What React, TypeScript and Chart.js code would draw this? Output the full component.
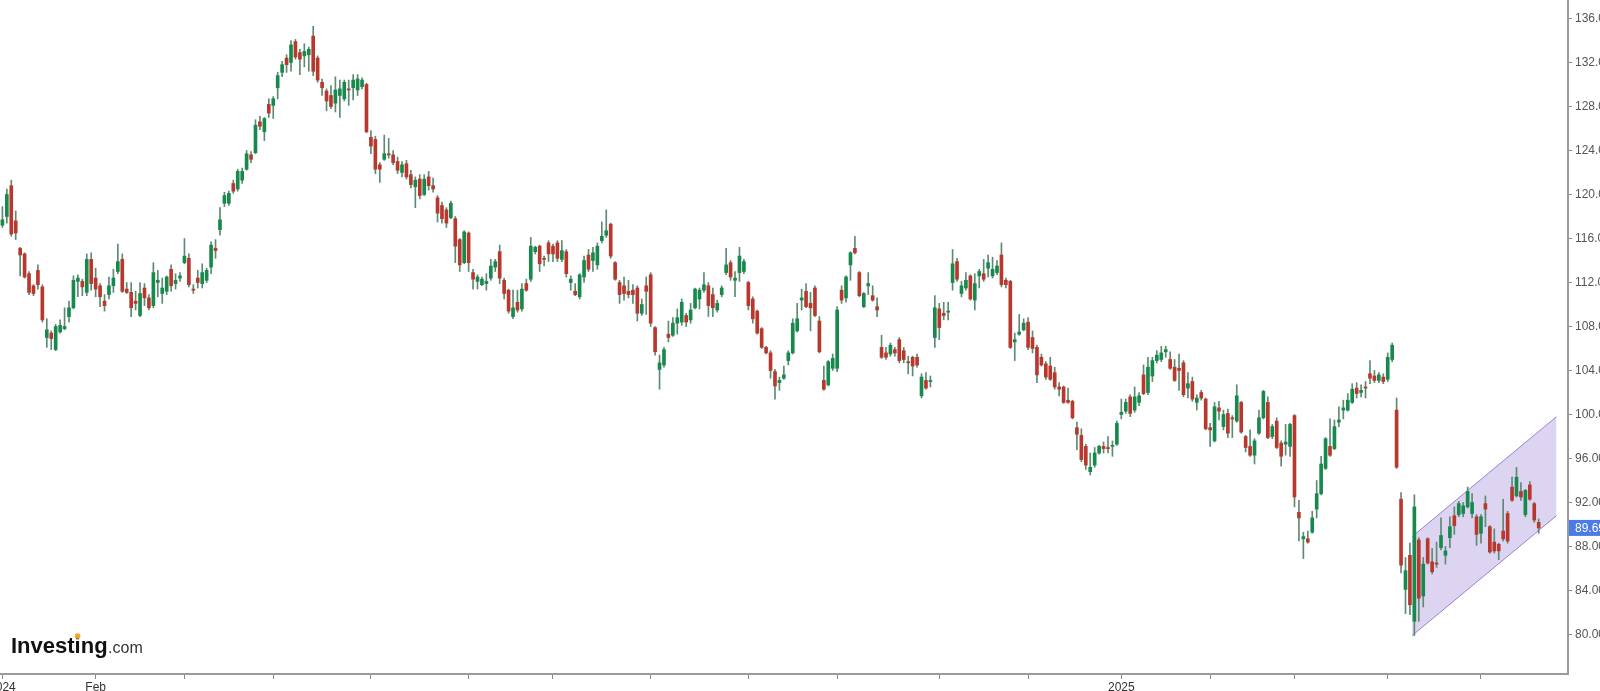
import React, { useEffect, useRef } from 'react';
import { Chart, registerables } from 'chart.js';

Chart.register(...registerables);

// ---------- data ----------
const opens = [
  117.2,118.0,120.8,117.6,115.1,114.6,112.8,111.7,113.1,111.6,
  107.0,107.4,105.9,107.5,107.8,108.9,109.7,112.1,112.1,111.1,
  114.1,112.4,111.7,110.3,110.9,111.7,113.0,114.1,111.4,111.1,
  110.3,109.0,111.5,110.6,109.9,112.0,111.0,111.2,113.2,111.9,
  112.4,113.8,114.2,111.4,112.4,111.9,112.2,113.4,115.1,116.8,
  119.2,119.2,121.0,120.5,121.3,122.3,123.6,123.8,126.6,125.7,
  128.2,128.1,129.7,131.1,132.4,132.0,133.9,132.9,132.6,132.7,
  134.4,132.4,130.2,129.4,129.0,128.3,129.0,128.7,129.6,129.7,
  129.5,129.8,130.0,125.2,125.0,122.7,123.2,123.7,123.6,123.0,
  122.0,122.8,121.8,120.7,121.4,120.0,121.6,120.8,119.7,119.0,
  118.6,117.9,117.8,115.9,113.8,116.5,112.9,112.1,111.8,111.9,
  112.4,113.4,114.8,112.2,111.3,108.9,110.2,109.6,111.9,112.3,
  114.8,115.3,114.2,115.6,115.3,115.6,114.1,114.8,112.0,111.2,
  110.7,112.5,114.5,114.0,113.6,115.8,116.3,117.3,113.8,112.0,
  111.7,111.2,111.3,111.5,109.2,111.7,112.7,107.9,104.1,104.5,
  107.3,107.2,108.3,108.4,109.0,108.6,109.7,110.5,111.3,111.7,
  110.9,109.5,110.9,112.9,113.8,112.2,112.9,113.0,112.0,110.5,
  109.4,107.8,106.1,105.6,103.9,102.9,103.3,104.9,105.6,107.6,
  110.4,111.2,110.1,111.5,108.5,103.1,102.7,104.2,104.2,111.3,
  110.6,113.6,115.1,112.9,109.8,111.7,110.8,109.8,106.1,105.6,
  105.5,105.9,106.8,105.8,104.8,105.2,105.2,101.7,103.1,103.0,
  107.0,109.6,109.2,109.3,112.0,113.9,111.0,111.5,112.6,110.4,
  112.6,112.8,113.3,112.6,112.9,114.5,112.2,112.1,106.6,107.3,
  107.7,108.4,107.0,106.1,105.2,104.6,104.4,103.8,102.5,102.5,
  101.3,101.2,98.8,98.1,97.1,94.8,95.4,96.5,97.1,97.0,
  97.1,97.3,100.0,100.3,101.6,100.4,101.1,103.6,102.0,103.5,
  104.9,105.0,105.7,105.0,104.3,104.2,104.7,102.4,103.0,101.1,
  102.0,101.4,98.8,97.6,100.6,98.9,100.1,99.7,99.4,101.1,
  98.0,97.1,96.3,98.3,99.7,101.1,98.0,99.4,97.4,97.3,
  97.1,99.9,91.1,88.7,88.7,89.3,91.4,92.8,95.1,97.1,
  96.9,99.3,100.4,100.4,101.1,102.4,102.0,102.5,103.7,103.5,
  103.1,103.4,103.2,105.0,100.4,92.3,84.1,87.2,81.2,88.6,
  83.5,88.7,86.6,86.5,87.9,87.2,88.8,90.8,90.9,91.0,
  91.6,91.0,90.7,89.2,91.9,89.8,88.4,88.2,89.4,91.0,
  93.4,92.6,93.0,90.9,93.6,91.9,90.2,
];

const highs = [
  118.9,120.5,121.3,118.5,115.2,114.7,113.0,111.8,113.6,111.8,
  108.7,107.6,108.2,108.6,109.7,110.3,112.6,112.7,112.3,114.6,
  114.7,113.3,111.9,110.9,112.5,113.2,115.5,114.6,112.0,112.0,
  111.2,112.0,111.9,110.9,113.8,113.1,112.4,112.6,113.6,112.8,
  112.9,116.0,114.6,111.8,113.1,113.7,113.3,115.7,115.9,118.8,
  120.2,120.3,121.3,122.3,122.4,124.0,123.9,126.8,127.1,127.0,
  128.7,128.9,131.1,132.1,132.7,134.0,134.1,133.2,133.7,133.4,
  135.3,132.6,130.5,129.6,129.9,130.7,130.4,130.4,130.4,130.9,
  130.9,130.6,130.1,125.8,125.3,122.9,125.4,125.1,124.0,123.4,
  123.0,123.1,122.2,121.6,121.8,121.8,122.1,121.5,119.9,119.3,
  118.8,119.4,118.0,116.0,116.7,116.6,113.2,112.7,112.5,112.8,
  114.1,114.1,115.4,112.4,111.4,111.3,111.3,111.9,112.3,116.1,
  115.3,115.4,114.4,115.8,115.5,115.8,115.8,115.0,112.6,111.9,
  112.8,114.4,115.0,115.2,115.6,117.5,118.6,117.4,113.9,112.2,
  112.5,112.2,111.8,111.7,110.5,112.5,112.9,108.0,105.4,106.1,
  108.5,108.8,109.6,110.5,109.2,110.1,111.5,111.5,112.9,112.0,
  111.5,110.4,111.7,115.1,114.0,113.0,115.2,114.1,112.1,110.7,
  109.5,107.9,106.2,105.8,104.1,103.4,104.4,105.8,108.7,110.1,
  111.4,111.9,111.1,111.7,108.9,104.4,104.9,105.5,109.8,111.7,
  112.6,114.8,116.2,113.0,111.1,112.9,111.7,110.6,107.2,106.1,
  106.5,106.1,107.0,106.1,105.3,105.3,105.5,103.7,103.8,103.5,
  110.8,110.1,110.2,110.2,115.0,114.2,112.1,112.9,112.7,112.8,
  113.2,114.1,114.5,114.3,114.0,115.6,112.4,112.2,107.4,109.1,
  108.7,108.8,107.6,106.3,105.5,104.8,105.2,104.3,102.9,102.6,
  102.4,101.3,99.3,98.7,97.3,96.5,97.0,97.2,97.5,98.0,
  97.6,99.4,101.4,101.4,101.8,102.5,102.0,104.5,105.2,105.2,
  105.8,106.2,106.2,105.7,105.0,105.5,104.9,103.8,103.4,101.8,
  102.2,101.5,99.2,101.1,101.2,100.4,100.5,99.9,102.7,101.2,
  98.1,98.6,97.8,100.4,102.2,101.6,99.1,99.7,97.6,99.1,
  99.2,100.0,92.2,89.3,89.4,91.2,94.0,96.2,97.9,99.6,
  99.5,100.7,101.3,101.9,102.8,102.9,102.7,103.0,104.9,104.0,
  103.8,103.7,105.6,106.5,101.5,92.9,87.0,88.3,92.7,88.8,
  87.0,88.8,87.8,88.4,90.6,88.0,90.7,91.6,92.1,92.0,
  93.4,92.8,90.9,90.9,92.6,89.9,89.6,88.3,92.3,91.2,
  94.3,95.2,93.8,93.2,93.9,92.0,90.5,
];

const lows = [
  117.0,117.4,116.2,115.9,112.6,112.4,110.9,110.8,111.4,108.4,
  106.1,105.9,105.8,107.4,107.7,108.4,109.6,110.7,110.8,110.8,
  111.3,110.7,109.8,109.4,110.5,111.1,112.8,111.1,111.0,108.9,
  109.5,108.9,109.9,109.5,109.7,110.7,110.1,110.9,111.2,111.4,
  112.1,113.7,111.6,111.0,111.5,111.5,112.0,112.8,114.2,116.3,
  118.9,119.0,120.1,120.3,121.0,122.2,122.9,123.7,125.9,124.9,
  127.0,126.9,128.7,130.7,131.1,131.2,132.3,130.9,131.6,131.2,
  130.8,130.2,129.0,127.6,127.8,127.5,127.0,128.5,128.1,128.6,
  129.0,129.6,125.6,123.7,121.9,121.1,123.1,123.3,122.7,121.9,
  121.6,121.4,120.6,118.8,119.6,119.9,120.4,120.2,117.5,117.4,
  117.0,117.8,113.8,113.0,113.7,113.0,111.4,111.4,111.7,111.3,
  112.2,113.0,111.9,110.5,109.2,108.7,109.3,109.4,111.2,112.1,
  114.6,113.0,113.5,113.9,113.9,113.9,113.9,112.5,111.3,110.8,
  110.5,112.0,113.0,113.0,113.2,115.6,116.1,114.2,112.2,110.1,
  110.4,110.6,110.1,108.5,109.0,109.1,108.0,105.4,102.3,104.3,
  106.6,107.1,107.3,108.1,108.0,108.3,109.6,109.6,111.1,108.9,
  108.9,109.3,110.7,112.7,112.2,110.7,112.1,112.8,109.5,108.3,
  107.3,106.0,105.5,103.3,101.4,102.2,103.2,104.5,105.5,107.5,
  109.5,109.7,107.6,108.9,105.6,102.2,102.6,104.0,103.9,110.1,
  110.2,112.2,114.6,110.7,109.7,110.9,110.3,108.9,105.1,105.0,
  105.3,105.3,104.7,104.7,103.7,103.5,104.3,101.5,102.3,102.5,
  106.1,106.8,108.6,108.6,111.3,112.1,110.7,111.3,110.4,109.5,
  111.5,112.1,112.5,112.4,112.7,111.6,111.5,106.0,104.9,107.2,
  107.6,105.9,105.6,102.9,104.4,103.2,103.1,102.3,101.7,101.0,
  101.0,99.6,96.8,95.7,95.0,94.5,95.2,96.4,96.5,96.5,
  96.2,97.2,99.6,100.1,99.8,100.2,100.8,101.8,101.8,103.0,
  104.7,104.8,105.2,104.1,103.0,102.2,101.6,101.5,101.2,100.4,
  101.3,98.6,97.1,97.5,99.5,98.6,97.9,97.9,99.3,98.3,
  96.6,96.2,95.5,98.2,99.6,97.8,97.8,96.9,95.3,96.3,
  96.2,91.6,88.5,86.9,88.3,89.2,90.6,92.7,95.0,96.2,
  96.8,98.9,99.6,100.3,101.0,101.5,101.6,101.5,102.8,102.9,
  102.9,102.8,103.0,104.8,95.1,85.6,81.9,81.8,79.9,81.2,
  82.5,86.4,85.5,86.1,87.7,86.4,87.9,89.1,90.7,90.7,
  91.5,90.6,88.1,88.3,89.8,87.4,87.4,86.8,88.5,88.3,
  92.1,92.5,92.2,90.7,92.2,90.2,89.2,
];

const closes = [
  117.7,120.0,116.4,116.5,114.5,112.5,111.1,111.0,111.8,108.6,
  107.7,106.9,108.0,108.1,108.0,109.7,112.2,112.4,111.6,114.1,
  111.9,111.4,110.7,109.9,111.7,112.4,113.9,111.2,111.1,109.7,
  110.1,111.0,110.6,109.7,112.9,112.2,111.5,112.5,111.7,112.2,
  112.6,114.4,111.8,111.3,112.0,112.9,113.1,115.4,114.9,117.7,
  119.9,120.1,120.3,122.1,122.1,123.7,123.2,126.3,126.2,126.9,
  127.4,128.7,130.8,131.8,131.8,133.6,132.5,132.3,133.0,133.2,
  131.2,130.4,129.7,128.5,128.0,129.5,129.6,130.2,129.5,130.4,
  130.5,130.4,125.7,124.4,122.3,122.3,123.7,123.6,122.9,122.2,
  122.7,121.6,120.9,121.3,119.9,121.4,120.8,120.5,118.3,117.8,
  117.4,119.2,115.3,113.6,116.6,113.8,112.3,112.5,112.3,112.1,
  113.5,113.9,112.4,111.0,109.4,109.7,109.5,111.4,111.3,115.3,
  115.2,113.7,114.1,114.6,114.6,114.2,114.9,112.8,112.3,110.9,
  112.7,114.0,113.2,114.7,115.3,116.2,116.7,114.4,112.3,110.9,
  111.0,110.9,110.9,109.2,110.0,111.2,108.3,105.7,104.7,105.9,
  107.0,108.3,108.8,110.2,108.4,109.5,111.4,111.3,111.8,109.9,
  109.7,110.1,111.5,113.6,112.5,112.4,114.4,113.9,109.9,108.7,
  107.4,106.1,105.6,104.0,102.6,103.1,103.6,105.6,108.3,108.7,
  110.6,109.8,109.7,109.0,105.7,102.3,104.8,105.1,109.5,110.4,
  112.5,114.7,114.7,110.8,111.0,111.9,110.4,109.5,105.2,105.2,
  106.3,105.6,104.9,105.0,104.7,104.4,104.5,103.4,102.4,103.1,
  109.7,107.9,109.0,109.4,113.7,112.3,111.7,112.2,110.5,111.9,
  113.0,112.3,113.8,113.2,113.5,111.8,111.8,106.1,106.8,107.5,
  108.3,106.1,106.0,103.6,104.5,103.4,103.2,102.5,102.3,101.1,
  101.1,99.7,98.2,95.9,95.4,95.2,96.5,97.1,96.9,96.9,
  97.2,99.2,100.2,101.1,100.1,101.6,101.7,101.9,104.3,104.9,
  105.4,105.6,105.9,104.2,103.1,104.0,101.8,102.8,101.4,101.5,
  101.5,98.7,98.6,100.7,100.3,100.0,98.3,99.6,101.7,98.4,
  97.0,96.3,97.6,99.7,102.1,97.9,98.9,97.0,96.2,97.5,
  99.1,92.5,90.6,88.9,88.4,90.6,92.8,95.5,97.8,96.3,
  98.9,99.5,100.6,101.3,102.3,101.9,102.2,102.4,103.3,103.1,
  103.6,103.0,105.2,106.3,95.2,86.3,85.8,82.7,91.6,83.3,
  86.4,86.5,85.7,86.4,89.0,87.6,89.8,89.9,91.9,91.7,
  93.0,92.0,89.1,90.7,91.4,87.5,87.6,87.6,88.7,88.5,
  92.2,94.3,92.5,93.1,92.3,90.4,89.69,
];

// month starts (trading-day index) and their labels
const monthTickIndex = [0, 21, 41, 61, 83, 105, 124, 146, 168, 188, 211, 231, 252, 272, 291, 312, 333];
const monthTickLabels = ['2024', 'Feb', '', '', '', '', '', '', '', '', '', '', '2025', '', '', '', ''];

const yTickValues = [80, 84, 88, 92, 96, 100, 104, 108, 112, 116, 120, 124, 128, 132, 136];

// rising channel drawn on the chart
const channelX = [317.5, 350];
const channelLower = [79.9, 90.8];
const channelUpper = [88.9, 99.8];

const lastPrice = 89.69;

// axis bounds
const X_MIN = -0.54;
const X_MAX = 352.6;
const Y_MIN = 76.41;
const Y_MAX = 137.68;

// ---------- styles ----------
const FONT = '"Liberation Sans", Arial, Helvetica, sans-serif';
const GREEN = '#17894d';
const RED = '#b8382d';
const WICK = '#5d8a72';
const PURPLE = '#9a7fd2';
const CHANNEL_FILL = 'rgba(120, 90, 200, 0.26)';
const AXIS_COLOR = '#9a9a9a';

const overlayPlugin = {
  id: 'overlay',
  afterDraw(chart: any) {
    const { ctx, chartArea, scales } = chart;
    // current price tag
    const yPix = scales.y.getPixelForValue(lastPrice);
    ctx.save();
    ctx.fillStyle = '#4a7be6';
    ctx.fillRect(chartArea.right + 1, yPix - 8, chart.width - chartArea.right, 16);
    ctx.fillStyle = '#ffffff';
    ctx.font = `12px ${FONT}`;
    ctx.textBaseline = 'middle';
    ctx.textAlign = 'left';
    ctx.fillText(lastPrice.toFixed(2), chartArea.right + 7, yPix + 0.5);

    // watermark logo
    const baseX = 11;
    const baseY = 653;
    ctx.textBaseline = 'alphabetic';
    ctx.font = `bold 22px ${FONT}`;
    ctx.fillStyle = '#111111';
    ctx.fillText('Investing', baseX, baseY);
    const w = ctx.measureText('Investing').width;
    const wPre = ctx.measureText('Invest').width;
    const wi = ctx.measureText('i').width;
    ctx.fillStyle = '#f5a623';
    ctx.beginPath();
    ctx.arc(baseX + wPre + wi / 2, baseY - 17, 2.8, 0, Math.PI * 2);
    ctx.fill();
    ctx.font = `16px ${FONT}`;
    ctx.fillStyle = '#333333';
    ctx.fillText('.com', baseX + w + 0.5, baseY);
    ctx.restore();
  },
};

export default function App() {
  const canvasRef = useRef<HTMLCanvasElement>(null);

  useEffect(() => {
    const canvas = canvasRef.current;
    if (!canvas) return;
    const idx = opens.map((_, i) => i);
    const bodies = idx.map((i) => ({ x: i, y: [opens[i], closes[i]] }));
    const wicks = idx.map((i) => ({ x: i, y: [lows[i], highs[i]] }));
    const bodyColors = idx.map((i) => (closes[i] >= opens[i] ? GREEN : RED));

    const chart = new Chart(canvas, {
      type: 'bar',
      data: {
        datasets: [
          {
            type: 'line',
            data: channelX.map((x, i) => ({ x, y: channelLower[i] })),
            borderColor: PURPLE,
            borderWidth: 1,
            pointRadius: 0,
            fill: false,
            order: 10,
          } as any,
          {
            type: 'line',
            data: channelX.map((x, i) => ({ x, y: channelUpper[i] })),
            borderColor: PURPLE,
            borderWidth: 1,
            pointRadius: 0,
            fill: '-1',
            backgroundColor: CHANNEL_FILL,
            order: 10,
          } as any,
          {
            type: 'bar',
            data: wicks,
            backgroundColor: WICK,
            barThickness: 1,
            grouped: false,
            order: 2,
          } as any,
          {
            type: 'bar',
            data: bodies,
            backgroundColor: bodyColors,
            barThickness: 3,
            minBarLength: 1,
            grouped: false,
            order: 1,
          } as any,
        ],
      },
      options: {
        responsive: false,
        animation: false,
        devicePixelRatio: 1,
        events: [],
        layout: { padding: 0 },
        plugins: {
          legend: { display: false },
          tooltip: { enabled: false },
          title: { display: false },
        },
        scales: {
          x: {
            type: 'linear',
            position: 'bottom',
            min: X_MIN,
            max: X_MAX,
            offset: false,
            afterBuildTicks: (scale: any) => {
              scale.ticks = monthTickIndex.map((v) => ({ value: v }));
            },
            afterFit: (scale: any) => {
              scale.height = 17;
              scale.paddingLeft = 0;
              scale.paddingRight = 0;
            },
            ticks: {
              autoSkip: false,
              maxRotation: 0,
              minRotation: 0,
              padding: 1,
              color: '#333333',
              font: { family: FONT, size: 12 },
              callback: (_v: any, i: number) => monthTickLabels[i] ?? '',
            },
            grid: {
              offset: false,
              drawOnChartArea: false,
              drawTicks: true,
              tickLength: 5,
              color: '#8a8a8a',
            },
            border: { display: true, color: AXIS_COLOR, width: 2 },
          } as any,
          y: {
            type: 'linear',
            position: 'right',
            min: Y_MIN,
            max: Y_MAX,
            afterBuildTicks: (scale: any) => {
              scale.ticks = yTickValues.map((v) => ({ value: v }));
            },
            afterFit: (scale: any) => {
              scale.width = 32;
              scale.paddingTop = 0;
              scale.paddingBottom = 0;
            },
            ticks: {
              padding: 3,
              color: '#555555',
              font: { family: FONT, size: 12 },
              callback: (v: any) => Number(v).toFixed(2),
            },
            grid: {
              offset: false,
              drawOnChartArea: false,
              drawTicks: true,
              tickLength: 4,
              color: '#8a8a8a',
            },
            border: { display: true, color: AXIS_COLOR, width: 2 },
          } as any,
        },
      },
      plugins: [overlayPlugin],
    });

    return () => chart.destroy();
  }, []);

  return (
    <div style={{ position: 'fixed', left: 0, top: 0, width: 1600, height: 691, background: '#ffffff' }}>
      <canvas ref={canvasRef} width={1600} height={691} style={{ display: 'block', width: 1600, height: 691 }} />
    </div>
  );
}
